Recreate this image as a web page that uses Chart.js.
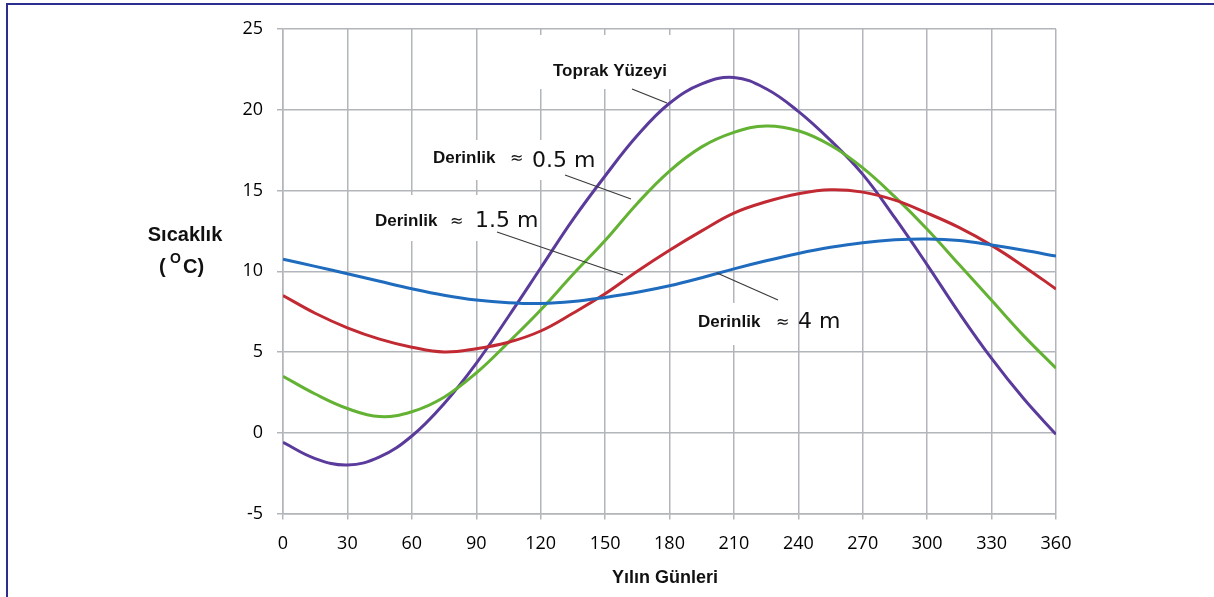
<!DOCTYPE html>
<html>
<head>
<meta charset="utf-8">
<script src="https://cdn.jsdelivr.net/npm/chart.js@4.4.0/dist/chart.umd.min.js"></script>
<style>
  html, body { margin: 0; padding: 0; background: white; }
  canvas { display: block; }
</style>
</head>
<body>
<canvas id="mychart" width="1214" height="597"></canvas>
<script>
// days of the year (x) and temperatures
const days = [0, 15, 30, 45, 60, 75, 90, 105, 120, 135, 150, 165, 180, 195, 210, 225, 240, 255, 270, 285, 300, 315, 330, 345, 360];
const toprakYuzeyi = [-0.6, -1.6, -2.0, -1.5, -0.2, 1.8, 4.3, 7.2, 10.2, 13.2, 15.9, 18.4, 20.4, 21.6, 22.0, 21.3, 19.9, 18.1, 16.0, 13.3, 10.4, 7.4, 4.6, 2.1, -0.1];
const derinlik05 = [3.5, 2.4, 1.5, 1.0, 1.3, 2.2, 3.7, 5.6, 7.6, 9.8, 11.9, 14.2, 16.2, 17.7, 18.6, 19.0, 18.7, 17.8, 16.4, 14.6, 12.6, 10.4, 8.2, 6.0, 4.0];
const derinlik15 = [8.5, 7.4, 6.5, 5.8, 5.3, 5.0, 5.2, 5.6, 6.3, 7.4, 8.6, 10.0, 11.3, 12.5, 13.6, 14.3, 14.8, 15.05, 14.9, 14.4, 13.6, 12.7, 11.6, 10.3, 8.9];
const derinlik4 = [10.75, 10.3, 9.85, 9.38, 8.92, 8.52, 8.22, 8.05, 8.0, 8.12, 8.38, 8.7, 9.1, 9.6, 10.15, 10.65, 11.1, 11.48, 11.77, 11.95, 12.0, 11.9, 11.62, 11.3, 10.94];

const gridColor = "#b2b6ba";
const tickFont = { family: "'Open Sans', sans-serif", size: 18 };

function toPoints(values) {
  return values.map((v, i) => ({ x: days[i], y: v }));
}

function makeDataset(label, values, color) {
  return {
    label: label,
    data: toPoints(values),
    borderColor: color,
    borderWidth: 3,
    pointRadius: 0,
    fill: false,
    tension: 0.4
  };
}

// labels with white boxes behind them, and the thin leader lines
const notes = [
  { box: [540, 35, 142, 54], parts: [{ text: "Toprak Yüzeyi", x: 553, y: 76, font: "bold 17px 'Liberation Sans'" }], line: [632, 89, 667, 103] },
  { box: [425, 140, 175, 40], parts: [
      { text: "Derinlik", x: 433, y: 163, font: "bold 17px 'Liberation Sans'" },
      { text: "≈", x: 510, y: 163, font: "16px 'DejaVu Sans'" },
      { text: "0.5 m", x: 532, y: 167, font: "22px 'DejaVu Sans'" }], line: [565, 175, 631, 199] },
  { box: [365, 195, 172, 46], parts: [
      { text: "Derinlik", x: 375, y: 226, font: "bold 17px 'Liberation Sans'" },
      { text: "≈", x: 450, y: 226, font: "16px 'DejaVu Sans'" },
      { text: "1.5 m", x: 475, y: 227, font: "22px 'DejaVu Sans'" }], line: [497, 232, 623, 275] },
  { box: [690, 303, 104, 42], parts: [
      { text: "Derinlik", x: 698, y: 327, font: "bold 17px 'Liberation Sans'" },
      { text: "≈", x: 776, y: 327, font: "16px 'DejaVu Sans'" },
      { text: "4 m", x: 798, y: 328, font: "22px 'DejaVu Sans'" }], line: [717, 273, 778, 300] }
];

const notesPlugin = {
  id: "notes",
  beforeDatasetsDraw(chart) {
    const ctx = chart.ctx;
    ctx.save();
    for (let note of notes) {
      ctx.fillStyle = "white";
      ctx.fillRect(note.box[0], note.box[1], note.box[2], note.box[3]);
    }
    ctx.fillStyle = "#111";
    ctx.textBaseline = "alphabetic";
    ctx.textAlign = "left";
    for (let note of notes) {
      for (let p of note.parts) {
        ctx.font = p.font;
        ctx.fillText(p.text, p.x, p.y);
      }
    }
    ctx.restore();
  },
  afterDatasetsDraw(chart) {
    const ctx = chart.ctx;
    ctx.save();
    ctx.strokeStyle = "#3a3a3a";
    ctx.lineWidth = 1.2;
    for (let note of notes) {
      ctx.beginPath();
      ctx.moveTo(note.line[0], note.line[1]);
      ctx.lineTo(note.line[2], note.line[3]);
      ctx.stroke();
    }
    ctx.restore();
  },
  afterDraw(chart) {
    const ctx = chart.ctx;
    ctx.save();
    // axis titles
    ctx.fillStyle = "#111";
    ctx.textBaseline = "alphabetic";
    ctx.textAlign = "center";
    ctx.font = "bold 20px 'Liberation Sans'";
    ctx.fillText("Sıcaklık", 185, 241);
    ctx.textAlign = "left";
    ctx.fillText("(", 159, 273);
    ctx.font = "bold 14px 'Liberation Sans'";
    ctx.fillText("O", 170, 263);
    ctx.font = "bold 20px 'Liberation Sans'";
    ctx.fillText("C)", 183, 273);
    ctx.textAlign = "center";
    ctx.font = "bold 18px 'Liberation Sans'";
    ctx.fillText("Yılın Günleri", 665, 583);
    // frame
    ctx.strokeStyle = "#2b2e8f";
    ctx.lineWidth = 2;
    ctx.beginPath();
    ctx.moveTo(7, 597);
    ctx.lineTo(7, 4);
    ctx.lineTo(1214, 4);
    ctx.stroke();
    ctx.restore();
  }
};

let ctx = document.getElementById("mychart").getContext("2d");
let myChart = new Chart(ctx, {
  type: "line",
  data: {
    datasets: [
      makeDataset("Derinlik ≈ 4 m", derinlik4, "#1f6cbf"),
      makeDataset("Derinlik ≈ 1.5 m", derinlik15, "#c22a33"),
      makeDataset("Derinlik ≈ 0.5 m", derinlik05, "#63b233"),
      makeDataset("Toprak Yüzeyi", toprakYuzeyi, "#5a3b9c")
    ]
  },
  options: {
    responsive: false,
    animation: false,
    layout: { padding: { top: 29, right: 158, left: 0, bottom: 0 } },
    plugins: { legend: { display: false }, tooltip: { enabled: false } },
    scales: {
      x: {
        type: "linear",
        min: 0,
        max: 360,
        ticks: { stepSize: 30, font: tickFont, color: "#000", padding: 14, maxRotation: 0 },
        grid: { color: gridColor, lineWidth: 1.5, tickLength: 6 },
        border: { color: gridColor, width: 1.5 },
        afterFit: function(scale) { scale.height = 83.5; }
      },
      y: {
        min: -5,
        max: 25,
        ticks: { stepSize: 5, font: tickFont, color: "#000", padding: 14 },
        grid: { color: gridColor, lineWidth: 1.5, tickLength: 6 },
        border: { color: gridColor, width: 1.5 },
        afterFit: function(scale) { scale.width = 283; }
      }
    }
  },
  plugins: [notesPlugin]
});
</script>
</body>
</html>
